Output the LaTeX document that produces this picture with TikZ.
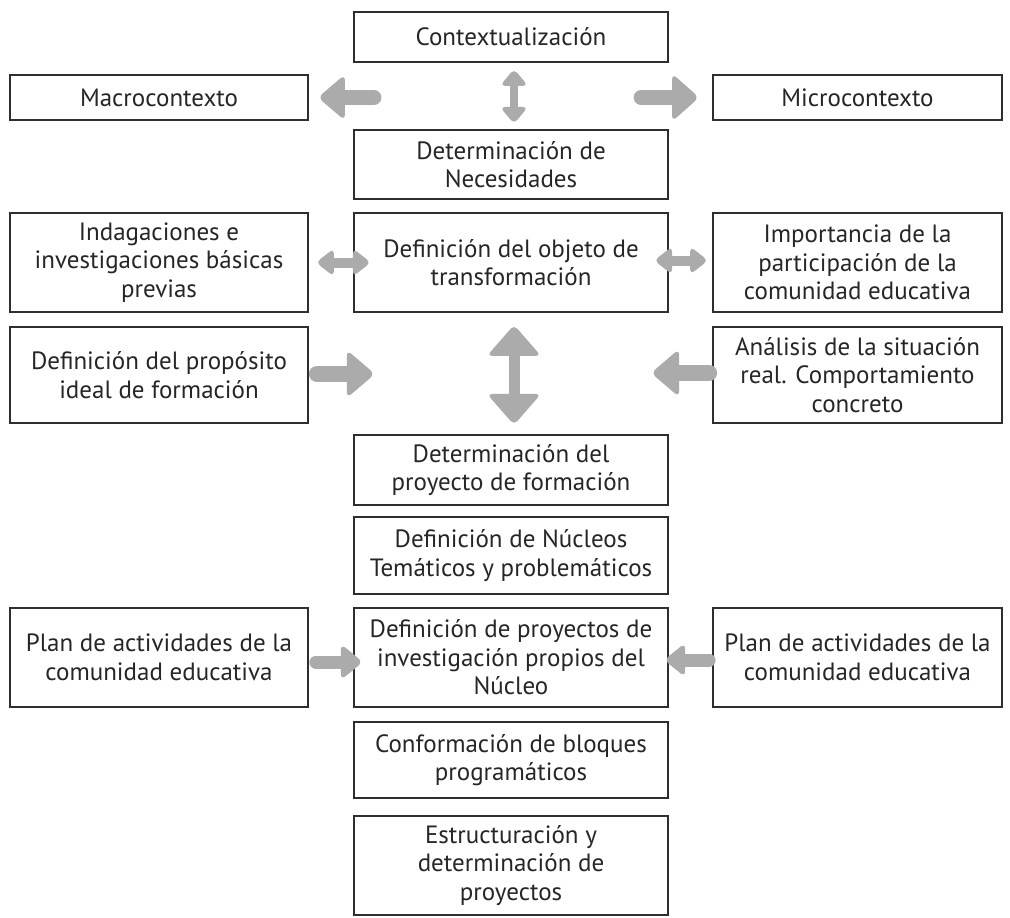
\documentclass[tikz,border=0pt]{standalone}
\usepackage{fontspec}
\setmainfont{PT Sans}
\usetikzlibrary{calc}
\tikzset{
  box/.style={draw=black!82, line width=1.8pt, fill=white, align=center, text=black!85,
    font=\fontsize{25}{28.5}\selectfont, inner sep=0pt},
  arrowcol/.style={black!33},
  pics/fatarrow/.style n args={4}{code={
    \draw[arrowcol, line width=2*#2, line cap=round] (0,0) -- (#1-#4+3,0);
    \fill[arrowcol, rounded corners=6pt] (#1-#4,-#3) -- (#1,0) -- (#1-#4,#3) -- cycle;
  }},
  pics/fatdarrow/.style n args={4}{code={
    \draw[arrowcol, line width=2*#2] (#4-3,0) -- (#1-#4+3,0);
    \fill[arrowcol, rounded corners=5pt] (#1-#4,-#3) -- (#1,0) -- (#1-#4,#3) -- cycle;
    \fill[arrowcol, rounded corners=5pt] (#4,-#3) -- (0,0) -- (#4,#3) -- cycle;
  }},
}
\begin{document}
\begin{tikzpicture}[x=1pt,y=-1pt]
\path[fill=white] (0,0) rectangle (1010,918);
\useasboundingbox (0,0) rectangle (1010,918);

\node[box, minimum width=314, minimum height=50] (ctx) at (511,37) {Contextualización};
\node[box, minimum width=298, minimum height=45] (macro) at (159,97.5) {Macrocontexto};
\node[box, minimum width=289, minimum height=45] (micro) at (857.5,97.5) {Microcontexto};
\node[box, minimum width=314, minimum height=69] (nec) at (511,164.5) {Determinación de\\Necesidades};
\node[box, minimum width=298, minimum height=99] (ind) at (159,262.5) {Indagaciones e\\investigaciones básicas\\previas};
\node[box, minimum width=314, minimum height=99] (obj) at (511,262.5) {Definición del objeto de\\transformación};
\node[box, minimum width=289, minimum height=99] (imp) at (857.5,262.5) {Importancia de la\\participación de la\\comunidad educativa};
\node[box, minimum width=298, minimum height=96] (prop) at (159,375) {Definición del propósito\\ideal de formación};
\node[box, minimum width=289, minimum height=96] (ana) at (857.5,375) {Análisis de la situación\\real. Comportamiento\\concreto};
\node[box, minimum width=314, minimum height=70] (proy) at (511,470) {Determinación del\\proyecto de formación};
\node[box, minimum width=314, minimum height=77] (nuc) at (511,555.5) {Definición de Núcleos\\Temáticos y problemáticos};
\node[box, minimum width=298, minimum height=99] (plan1) at (159,657.5) {Plan de actividades de la\\comunidad educativa};
\node[box, minimum width=314, minimum height=99] (defp) at (511,657.5) {Definición de proyectos de\\investigación propios del\\Núcleo};
\node[box, minimum width=289, minimum height=99] (plan2) at (857.5,657.5) {Plan de actividades de la\\comunidad educativa};
\node[box, minimum width=314, minimum height=76] (conf) at (511,760) {Conformación de bloques\\programáticos};
\node[box, minimum width=314, minimum height=99] (est) at (511,865.5) {Estructuración y\\determinación de\\proyectos};

% arrows
\pic[rotate=180] at ($(macro.east)+(65,0)$) {fatarrow={56}{7.5}{23}{27}};
\pic at ($(micro.west)+(-71,0)$) {fatarrow={58}{7.5}{24}{27}};
\pic[rotate=-90] at ($(ctx.south)+(3,6)$) {fatdarrow={55}{4}{14}{17}};
\pic at ($(ind.east)+(7,0)$) {fatdarrow={55}{5}{14}{18}};
\pic at ($(imp.west)+(-58,-2)$) {fatdarrow={54}{5}{14}{18}};
\pic at ($(prop.east)+(8,-1)$) {fatarrow={58}{8}{24}{28}};
\pic[rotate=-90] at ($(obj.south)+(3,12)$) {fatdarrow={100}{5.5}{27}{31}};
\pic[rotate=180] at ($(ana.west)+(-3,-2)$) {fatarrow={58}{8}{24}{28}};
\pic at ($(plan1.east)+(7,4.5)$) {fatarrow={47}{6.5}{18}{22}};
\pic[rotate=180] at ($(plan2.west)+(-3,2.5)$) {fatarrow={45}{6.5}{17}{21}};
\end{tikzpicture}
\end{document}
